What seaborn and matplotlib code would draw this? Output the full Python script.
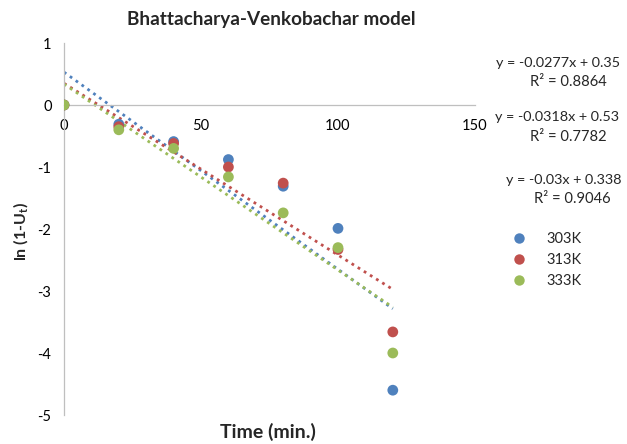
import numpy as np
import pandas as pd
import matplotlib
matplotlib.use("Agg")
import matplotlib.pyplot as plt
import seaborn as sns
from matplotlib.lines import Line2D

# Kinetic data: ln(1 - U_t) against contact time at three temperatures
time_min = [0, 20, 40, 60, 80, 100, 120]
ln_303K = [0.0, -0.31, -0.59, -0.88, -1.31, -1.99, -4.60]
ln_313K = [0.0, -0.35, -0.62, -1.00, -1.26, -2.33, -3.66]
ln_333K = [0.0, -0.40, -0.70, -1.16, -1.74, -2.30, -4.00]

series_names = ["303K", "313K", "333K"]
colors = ["#4F81BD", "#C0504D", "#9BBB59"]

# Linear trend lines (slope, intercept, R²)
slopes = [-0.0318, -0.0277, -0.03]
intercepts = [0.53, 0.35, 0.338]
r_squared = [0.7782, 0.8864, 0.9046]

sns.set_theme(style="white")
plt.rcParams["font.family"] = ["Lato", "DejaVu Sans"]

df = pd.DataFrame({
    "Time": time_min * 3,
    "lnU": ln_303K + ln_313K + ln_333K,
    "Temperature": sum([[n] * len(time_min) for n in series_names], []),
})

W, H = 627, 444
fig = plt.figure(figsize=(W / 100, H / 100), dpi=100)
ax = fig.add_axes([64 / W, 1 - 415 / H, (475 - 64) / W, (415 - 43) / H])

# Dotted trend lines over the measured range
x_fit = np.array([0, 120])
for m, b, c in zip(slopes, intercepts, colors):
    ax.plot(x_fit, m * x_fit + b, color=c, linestyle=(0, (1, 1.6)),
            linewidth=2.0, zorder=2)

sns.scatterplot(data=df, x="Time", y="lnU", hue="Temperature",
                palette=colors, s=60, edgecolor="none", legend=False,
                ax=ax, zorder=3)

ax.set_xlim(0, 150)
ax.set_ylim(-5, 1)
ax.set_xticks([0, 50, 100, 150])
ax.set_yticks([1, 0, -1, -2, -3, -4, -5])
ax.set_xticklabels(["0", "50", "100", "150"])
ax.set_yticklabels(["1", "0", "-1", "-2", "-3", "-4", "-5"])

for s in ["top", "right"]:
    ax.spines[s].set_visible(False)
ax.spines["bottom"].set_position(("data", 0))
for s in ["left", "bottom"]:
    ax.spines[s].set_color("#BFBFBF")
    ax.spines[s].set_linewidth(0.9)
ax.tick_params(axis="both", length=0, labelsize=10.5, colors="black")
ax.tick_params(axis="x", pad=10)
ax.tick_params(axis="y", pad=9)

ax.set_xlabel("")
ax.set_ylabel("")
fig.text(268 / W, 1 - 432 / H, "Time (min.)", ha="center", va="center",
         fontsize=14, fontweight="bold")
fig.text(21 / W, 1 - 231 / H, r"ln (1-U$_\mathregular{t}$)", ha="center",
         va="center", rotation=90, fontsize=11.5, fontweight="bold")
fig.text(271 / W, 1 - 20 / H, "Bhattacharya-Venkobachar model",
         ha="center", va="center", fontsize=13.6, fontweight="bold")

# Trend line equations
eq_pos = [(495, 117, 568, 137), (496, 63, 568, 82), (506, 180, 572, 199)]
for (ex, ey, rx, ry), m, b, r2 in zip(eq_pos, slopes, intercepts, r_squared):
    fig.text(ex / W, 1 - ey / H, f"y = {m:g}x + {b:g}", ha="left",
             va="center", fontsize=10.4)
    fig.text(rx / W, 1 - ry / H, f"R² = {r2:.4f}", ha="center",
             va="center", fontsize=10.6)

handles = [Line2D([], [], marker="o", linestyle="none", markersize=7.5,
                  markerfacecolor=c, markeredgecolor="none") for c in colors]
fig.legend(handles, series_names, loc="upper left",
           bbox_to_anchor=(498.5 / W, 1 - 219 / H), frameon=False,
           fontsize=10.5, handlelength=1.0, handletextpad=1.42,
           labelspacing=0.48)

fig.savefig("out.png", dpi=100)
